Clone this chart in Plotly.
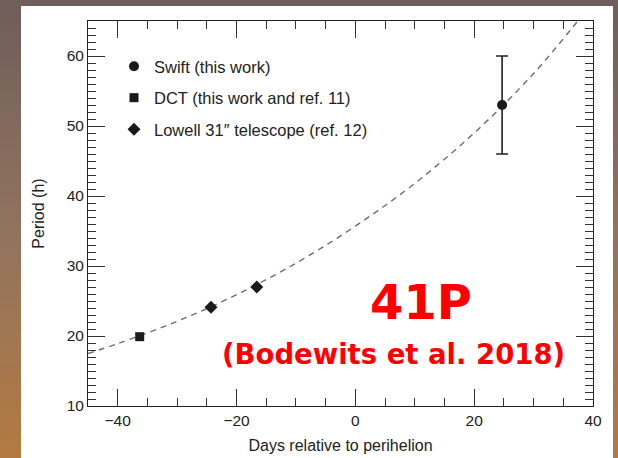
import plotly.graph_objects as go

# ---- data ----
swift_days = [24.7]
swift_period = [53.0]
swift_err = [7.0]

dct_days = [-36.3]
dct_period = [19.9]

lowell_days = [-24.3, -16.6]
lowell_period = [24.1, 27.0]

fit_days = [-45, -40, -30, -20, -10, 0, 10, 20, 30, 38]
fit_period = [17.5, 18.9, 22.1, 25.9, 30.4, 35.7, 41.8, 49.0, 57.5, 65.6]

x_ticks = [-40, -20, 0, 20, 40]
y_ticks = [10, 20, 30, 40, 50, 60]

W, H = 618, 458
ML, MR, MT, MB = 88, 25, 21, 52
PW, PH = W - ML - MR, H - MT - MB


def px(x):
    return (x - ML) / PW


def py(y):
    return 1 - (y - MT) / PH


fig = go.Figure()

fig.add_trace(go.Scatter(
    x=fit_days, y=fit_period, mode="lines", line_shape="spline",
    line=dict(color="#6e6e6e", width=1.4, dash="6px,5px"),
    showlegend=False, hoverinfo="skip"))

mk = "#1a1a1a"
fig.add_trace(go.Scatter(
    x=swift_days, y=swift_period, mode="markers", name="Swift (this work)",
    marker=dict(symbol="circle", size=10, color=mk),
    error_y=dict(type="data", array=swift_err, color="#222", thickness=1.6, width=6),
    legendgroup="a"))
fig.add_trace(go.Scatter(
    x=dct_days, y=dct_period, mode="markers", name="DCT (this work and ref. 11)",
    marker=dict(symbol="square", size=9, color=mk), legendgroup="b"))
fig.add_trace(go.Scatter(
    x=lowell_days, y=lowell_period, mode="markers", name="Lowell 31\u2033 telescope (ref. 12)",
    marker=dict(symbol="diamond", size=10, color=mk), legendgroup="c"))

# background gradient bands + white panel (decoration)
top = (112, 94, 90)
mid = (145, 115, 95)
bot = (178, 122, 66)
shapes = []
n = 40
for i in range(n):
    f = i / (n - 1)
    if f < 0.5:
        g = f / 0.5
        c = [round(top[k] + (mid[k] - top[k]) * g) for k in range(3)]
    else:
        g = (f - 0.5) / 0.5
        c = [round(mid[k] + (bot[k] - mid[k]) * g) for k in range(3)]
    y0 = H * i / n
    y1 = H * (i + 1) / n + 1
    shapes.append(dict(type="rect", xref="paper", yref="paper", layer="below",
                       x0=px(-2), x1=px(W + 2), y0=py(y1), y1=py(y0),
                       line=dict(width=0), fillcolor="rgb(%d,%d,%d)" % tuple(c)))
shapes.append(dict(type="rect", xref="paper", yref="paper", layer="below",
                   x0=px(21), x1=px(613), y0=py(H + 2), y1=py(6),
                   line=dict(width=0), fillcolor="white"))

axis_font = dict(family="Liberation Sans, Arial, sans-serif", size=16, color="#222")
tick_font = dict(family="Liberation Sans, Arial, sans-serif", size=15.5, color="#222")

fig.update_layout(
    width=W, height=H,
    margin=dict(l=ML, r=MR, t=MT, b=MB, autoexpand=False),
    paper_bgcolor="rgb(112,94,90)", plot_bgcolor="white",
    shapes=shapes,
    font=axis_font,
    legend=dict(x=px(114), y=py(49), xanchor="left", yanchor="top",
                bgcolor="rgba(0,0,0,0)",
                font=dict(family="Liberation Sans, Arial, sans-serif", size=16.5, color="#222"),
                traceorder="grouped", tracegroupgap=7),
    annotations=[
        dict(text="<b>41P</b>", x=px(421), y=py(302), xref="paper", yref="paper",
             xanchor="center", yanchor="middle",
             showarrow=False, font=dict(family="DejaVu Sans", size=48, color="#ff0000")),
        dict(text="<b>(Bodewits et al. 2018)</b>", x=px(393), y=py(354), xref="paper", yref="paper",
             xanchor="center", yanchor="middle",
             showarrow=False, font=dict(family="DejaVu Sans", size=27.5, color="#ff0000")),
    ],
)

fig.update_xaxes(
    range=[-45, 40], tickvals=x_ticks, ticktext=["\u221240", "\u221220", "0", "20", "40"],
    tickfont=tick_font, automargin=False,
    ticks="inside", ticklen=17, tickcolor="#333", tickwidth=1,
    minor=dict(dtick=5, tick0=0, ticks="inside", ticklen=8, tickcolor="#333", tickwidth=1),
    showline=True, linecolor="#222", linewidth=1, mirror="ticks",
    showgrid=False, zeroline=False,
    title=dict(text="Days relative to perihelion", standoff=12, font=axis_font),
)
fig.update_yaxes(
    range=[10, 65], tickvals=y_ticks,
    tickfont=tick_font, automargin=False,
    ticks="inside", ticklen=17, tickcolor="#333", tickwidth=1,
    minor=dict(dtick=1, tick0=0, ticks="inside", ticklen=8, tickcolor="#333", tickwidth=1),
    showline=True, linecolor="#222", linewidth=1, mirror="ticks",
    showgrid=False, zeroline=False,
    title=dict(text="Period (h)", standoff=18, font=axis_font),
)

fig.write_html("out.html", config={"displayModeBar": False},
               post_script="document.body.style.margin='0';")
